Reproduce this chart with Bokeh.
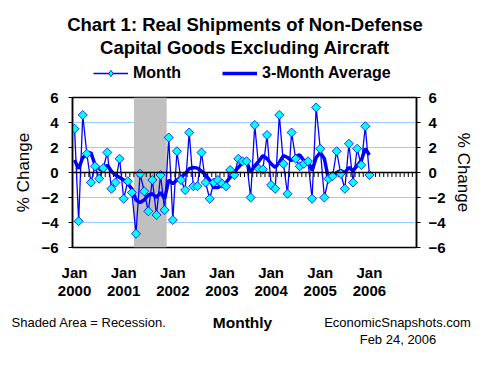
import numpy as np
import pandas as pd
from bokeh.plotting import figure
from bokeh.layouts import column
from bokeh.models import (Range1d, LinearAxis, FixedTicker, Span, Label, Legend,
                          LegendItem, ColumnDataSource)
from bokeh.embed import file_html
from bokeh.resources import INLINE

# ---------------- data ----------------
start_month = "2000-01"
month_change = [3.5, -3.9, 4.6, 1.5, -0.8, 0.5, -0.5, 0.35, 1.6, -1.3, -0.8, 1.1,
                -2.1, -0.7, -1.6, -4.9, -0.1, -1.5, -3.1, -0.6, -3.4, -0.2, -3.0, 2.8,
                -3.8, 1.7, -0.6, -1.4, 3.2, -1.1, -1.1, 1.6, -0.8, -2.1, -0.8, -0.6,
                -0.9, -1.1, 0.2, -0.2, 1.1, 0.9, 0.9, -2.0, 3.8, 0.3, 0.25, 3.0,
                -1.0, -1.3, 4.6, 0.7, -1.7, 3.2, 1.1, 0.5, 0.7, 0.9, -2.1, 5.2,
                1.9, -2.0, -0.5, -0.3, 1.7, -0.1, -1.3, 2.3, -0.8, 1.9, 0.6, 3.7,
                -0.2]
avg_change = [1.0, 0.3, 1.2, 1.4, 1.6, 0.6, 0.3, 0.1, 0.6, 0.1, -0.2, -0.4,
              -0.6, -0.9, -1.3, -2.2, -2.4, -2.2, -1.8, -1.7, -2.0, -1.6, -2.1, -0.6,
              -0.9, -0.6, -0.4, -0.1, 0.3, 0.4, 0.35, 0.1, -0.2, -0.6, -1.2, -1.2,
              -1.0, -0.8, -0.4, 0.0, 0.4, 0.8, 0.9, 0.0, 0.55, 0.9, 1.35, 1.1,
              0.7, 0.4, 0.8, 1.35, 1.2, 0.95, 1.3, 1.4, 0.95, 0.95, 0.15, 1.2,
              1.6, 1.1, -0.5, -0.4, 0.0, 0.15, 0.0, 0.4, 0.15, 0.55, 0.95, 1.9,
              1.4]
axis_months = 84                      # Jan 2000 .. Dec 2006 category slots
recession_start = "2001-04"
recession_end = "2001-11"
y_ticks = [-6, -4, -2, 0, 2, 4, 6]

dates = pd.date_range(start_month, periods=len(month_change), freq="MS")
axis_dates = pd.date_range(start_month, periods=axis_months, freq="MS")
idx = np.arange(len(month_change))
jan_idx = [i for i, d in enumerate(axis_dates) if d.month == 1]
jan_labels = {i: "Jan\n%d" % axis_dates[i].year for i in jan_idx}
rec_s = list(axis_dates).index(pd.Timestamp(recession_start))
rec_e = list(axis_dates).index(pd.Timestamp(recession_end))

FONT = "Liberation Sans"
BLUE = "#0000FF"
W = 485

src = ColumnDataSource(dict(x=idx, m=month_change, a=avg_change))
line_style = dict(line_color=BLUE, line_width=1.3)
avg_style = dict(line_color=BLUE, line_width=3.5)
pt_style = dict(marker="square", size=6.4, angle=np.pi / 4,
                fill_color="#00FFFF", line_color=BLUE, line_width=0.8)
key_pt_style = dict(marker="diamond", size=10,
                    fill_color="#00FFFF", line_color=BLUE, line_width=0.8)

# ---------------- main plot ----------------
p = figure(frame_width=344, frame_height=150, frame_align=False,
           min_border_left=72, min_border_right=69, min_border_top=9, min_border_bottom=58,
           x_range=Range1d(-0.5, axis_months - 0.5), y_range=Range1d(-6, 6),
           output_backend="svg", toolbar_location=None, tools="",
           background_fill_color="white", border_fill_color="white")

p.outline_line_color = "black"
p.outline_line_width = 1.5
p.xgrid.visible = False
p.ygrid.ticker = FixedTicker(ticks=y_ticks)
p.ygrid.grid_line_color = "#99CCFF"
p.ygrid.grid_line_width = 1

p.quad(left=[rec_s - 0.5], right=[rec_e + 0.5], bottom=[-6], top=[6],
       fill_color="#C0C0C0", line_color=None)

p.add_layout(Span(location=0, dimension="width", line_color="black", line_width=1.5))
b = np.arange(axis_months + 1) - 0.5
p.segment(x0=b, x1=b, y0=np.zeros_like(b), y1=np.full_like(b, -0.36),
          line_color="black", line_width=1)

p.line("x", "m", source=src, **line_style)
p.line("x", "a", source=src, **avg_style)
p.scatter("x", "m", source=src, **pt_style)

p.xaxis.ticker = FixedTicker(ticks=jan_idx)
p.xaxis.major_label_overrides = jan_labels
p.xaxis.axis_line_color = None
p.xaxis.major_tick_line_color = None
p.xaxis.minor_tick_line_color = None
p.xaxis.major_label_standoff = 10
p.xaxis.major_label_text_font = FONT
p.xaxis.major_label_text_font_size = "15px"
p.xaxis.major_label_text_font_style = "bold"
p.xaxis.major_label_text_color = "black"
p.xaxis.major_label_text_line_height = 1.1

p.yaxis.visible = False
for loc, standoff in (("left", 10), ("right", 8)):
    ax = LinearAxis(ticker=FixedTicker(ticks=y_ticks), axis_label="% Change")
    ax.axis_line_color = "black"
    ax.axis_line_width = 1.5
    ax.major_tick_in = 0
    ax.major_tick_out = 4
    ax.major_tick_line_color = "black"
    ax.minor_tick_line_color = None
    ax.major_label_standoff = standoff
    ax.major_label_text_font = FONT
    ax.major_label_text_font_size = "15px"
    ax.major_label_text_font_style = "bold"
    ax.major_label_text_color = "black"
    ax.axis_label_text_font = FONT
    ax.axis_label_text_font_size = "17px"
    ax.axis_label_text_font_style = "normal"
    ax.axis_label_text_color = "black"
    ax.axis_label_standoff = 5
    p.add_layout(ax, loc)


def blank(height, y0, y1):
    f = figure(width=W, height=height, x_range=Range1d(0, W), y_range=Range1d(y0, y1),
               min_border=0, frame_align=False,
               output_backend="svg", toolbar_location=None, tools="",
               x_axis_location=None, y_axis_location=None,
               background_fill_color="white", border_fill_color="white")
    f.outline_line_color = None
    f.grid.visible = False
    return f


def note(f, x, y, text, size, style="normal", align="center"):
    f.add_layout(Label(x=x, y=y, text=text, text_font=FONT, text_font_size=size,
                       text_font_style=style, text_align=align, text_baseline="middle",
                       text_color="black"))


# ---------------- header: title + legend ----------------
head = blank(88, 88, 0)
note(head, 244.5, 24, "Chart 1: Real Shipments of Non-Defense", "18.5px", "bold")
note(head, 244.5, 47, "Capital Goods Excluding Aircraft", "18.5px", "bold")
# legend keys share the series' own data and styling (kept hidden here)
lg_m = head.line("x", "m", source=src, visible=False, **line_style)
lg_p = head.scatter("x", "m", source=src, visible=False, **key_pt_style)
lg_a = head.line("x", "a", source=src, visible=False, **avg_style)
legend = Legend(items=[LegendItem(label="Month", renderers=[lg_m, lg_p]),
                       LegendItem(label="3-Month Average", renderers=[lg_a])],
                location=(93, 6), orientation="horizontal",
                glyph_width=35, glyph_height=16, label_height=16, label_standoff=5,
                spacing=41, padding=0, margin=0,
                border_line_alpha=0, background_fill_alpha=0,
                label_text_font=FONT, label_text_font_size="16px",
                label_text_font_style="bold", label_text_color="black")
head.add_layout(legend, "center")

# ---------------- footer notes ----------------
foot = blank(60, 365, 305)
note(foot, 11, 322, "Shaded Area = Recession.", "13px", align="left")
note(foot, 242, 321.5, "Monthly", "15.5px", "bold")
note(foot, 397, 322, "EconomicSnapshots.com", "13px")
note(foot, 397.5, 338.5, "Feb 24, 2006", "13px")

layout = column(head, p, foot, spacing=0)
open("out.html", "w").write(file_html(layout, INLINE))
